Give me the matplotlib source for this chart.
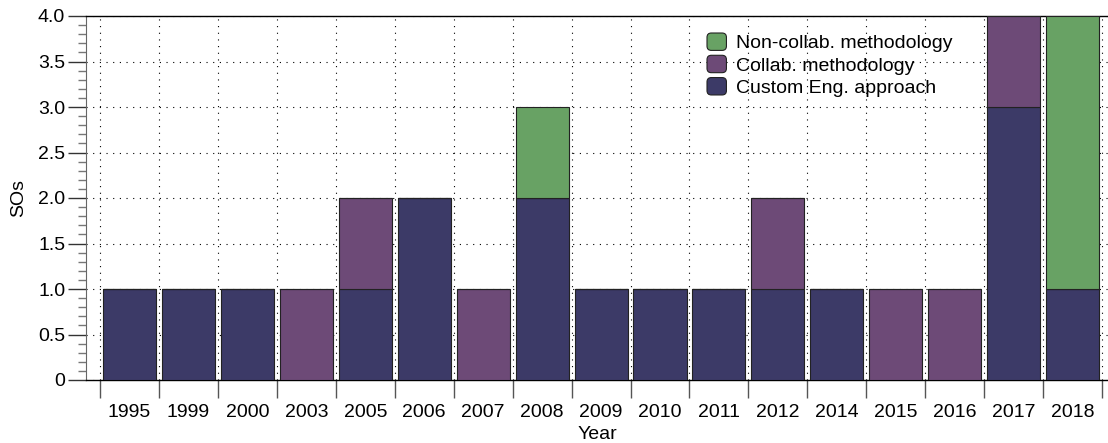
import matplotlib
matplotlib.use("Agg")
import matplotlib.pyplot as plt
import numpy as np
from matplotlib.patches import FancyBboxPatch, Patch
from matplotlib.legend_handler import HandlerPatch
from matplotlib.ticker import MultipleLocator, FuncFormatter

plt.rcParams["font.family"] = ["Liberation Sans", "DejaVu Sans"]
plt.rcParams["font.size"] = 14

years = ["1995", "1999", "2000", "2003", "2005", "2006", "2007", "2008", "2009",
         "2010", "2011", "2012", "2014", "2015", "2016", "2017", "2018"]
custom_eng = [1, 1, 1, 0, 1, 2, 0, 2, 1, 1, 1, 1, 1, 0, 0, 3, 1]
collab = [0, 0, 0, 1, 1, 0, 1, 0, 0, 0, 0, 1, 0, 1, 1, 1, 0]
non_collab = [0, 0, 0, 0, 0, 0, 0, 1, 0, 0, 0, 0, 0, 0, 0, 0, 3]

c_custom = "#3c3a67"
c_collab = "#6d4a77"
c_non = "#68a264"

fig = plt.figure(figsize=(11.08, 4.43), dpi=100)
ax = fig.add_axes([86 / 1108, 1 - 380 / 443, 1 - 86 / 1108, (380 - 16) / 443])

x = np.arange(len(years))
custom_eng = np.array(custom_eng)
collab = np.array(collab)
non_collab = np.array(non_collab)

bar_kw = dict(width=0.9, edgecolor="#222222", linewidth=0.8, zorder=3)
ax.bar(x, custom_eng, color=c_custom, **bar_kw)
ax.bar(x, collab, bottom=custom_eng, color=c_collab, **bar_kw)
ax.bar(x, non_collab, bottom=custom_eng + collab, color=c_non, **bar_kw)

ax.set_xlim(-0.738, 16.6)
ax.set_ylim(0, 4.0)

# category boundaries get the tick marks, centers get the labels
ax.set_xticks(np.arange(-0.5, len(years), 1.0))
ax.set_xticklabels([])
ax.set_xticks(x, minor=True)
ax.set_xticklabels(years, minor=True)
ax.tick_params(axis="x", which="major", length=13, width=1, color="#555555", direction="out")
ax.tick_params(axis="x", which="minor", length=0, pad=17)

ax.yaxis.set_major_locator(MultipleLocator(0.5))
ax.yaxis.set_minor_locator(MultipleLocator(0.1))
ax.yaxis.set_major_formatter(FuncFormatter(lambda v, p: "0" if v == 0 else f"{v:.1f}"))
ax.tick_params(axis="y", which="major", length=13, width=1, color="#333333", pad=2)
ax.tick_params(axis="y", which="minor", length=6, width=1, color="#777777")

ax.grid(True, which="major", color="black", linestyle=(0, (1, 5)), linewidth=0.8, zorder=0)
ax.set_axisbelow(True)

ax.spines["right"].set_visible(False)
ax.spines["left"].set_color("#666666")
ax.spines["top"].set_color("black")
ax.spines["bottom"].set_color("black")
ax.spines["top"].set_linewidth(1.0)
ax.spines["bottom"].set_linewidth(1.0)

ax.set_xlabel("Year", labelpad=4)
ax.set_ylabel("SOs", labelpad=8)


class RoundHandler(HandlerPatch):
    def create_artists(self, legend, orig_handle, xdescent, ydescent, width, height, fontsize, trans):
        p = FancyBboxPatch((-xdescent, -ydescent), width, height,
                           boxstyle="round,pad=0,rounding_size=%f" % (height * 0.25),
                           facecolor=orig_handle.get_facecolor(),
                           edgecolor="#222222", linewidth=0.8, transform=trans)
        return [p]


handles = [Patch(facecolor=c_non), Patch(facecolor=c_collab), Patch(facecolor=c_custom)]
labels = ["Non-collab. methodology", "Collab. methodology", "Custom Eng. approach"]
ax.legend(handles, labels, loc="upper left", bbox_to_anchor=(707 / 1108, 1 - 33 / 443),
          bbox_transform=fig.transFigure, frameon=False, borderpad=0, borderaxespad=0,
          labelspacing=0.15, handlelength=1.0, handleheight=1.0, handletextpad=0.5,
          handler_map={Patch: RoundHandler()})

fig.savefig("out.png", dpi=100)
